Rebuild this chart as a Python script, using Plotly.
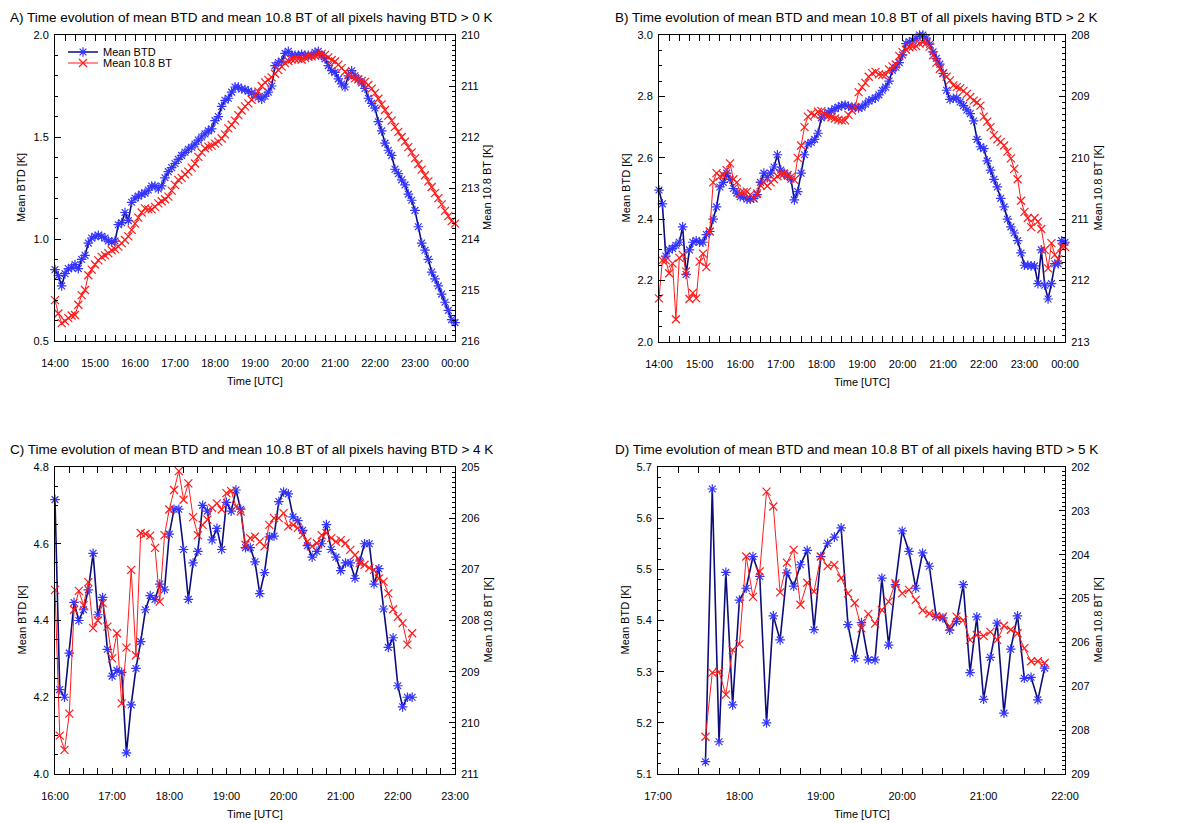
import plotly.graph_objects as go
import pandas as pd

# ---------------- data (5-minute samples) ----------------
A_start = "2000-01-01 14:00"
A_btd = [0.85, 0.82, 0.77, 0.83, 0.855, 0.86, 0.875, 0.855, 0.90, 0.92,
         0.98, 1.005, 1.013, 1.018, 1.013, 1.005, 0.99, 0.985, 0.99, 1.07,
         1.08, 1.13, 1.09, 1.18, 1.20, 1.21, 1.22, 1.225, 1.24, 1.26,
         1.26, 1.245, 1.26, 1.30, 1.33, 1.35, 1.37, 1.39, 1.41, 1.425,
         1.44, 1.45, 1.465, 1.485, 1.50, 1.515, 1.53, 1.54, 1.58, 1.60,
         1.65, 1.68, 1.69, 1.72, 1.745, 1.745, 1.735, 1.733, 1.725, 1.715,
         1.708, 1.695, 1.685, 1.70, 1.72, 1.75, 1.85, 1.865, 1.872, 1.91,
         1.92, 1.90, 1.90, 1.90, 1.905, 1.90, 1.90, 1.90, 1.915, 1.92,
         1.90, 1.883, 1.85, 1.825, 1.817, 1.785, 1.76, 1.745, 1.80, 1.825,
         1.80, 1.785, 1.765, 1.738, 1.69, 1.665, 1.642, 1.575, 1.53, 1.47,
         1.435, 1.41, 1.342, 1.32, 1.29, 1.265, 1.22, 1.19, 1.14, 1.06,
         0.98, 0.945, 0.90, 0.838, 0.805, 0.77, 0.73, 0.69, 0.65, 0.605,
         0.59]
A_bt = [215.20, 215.46, 215.65, 215.61, 215.55, 215.50, 215.49, 215.29, 215.10, 215.00,
        214.71, 214.60, 214.50, 214.42, 214.35, 214.32, 214.28, 214.22, 214.20, 214.15,
        214.08, 214.02, 213.95, 213.82, 213.70, 213.58, 213.48, 213.40, 213.42, 213.42,
        213.37, 213.30, 213.26, 213.22, 213.17, 213.05, 212.94, 212.84, 212.80, 212.73,
        212.68, 212.60, 212.52, 212.39, 212.30, 212.22, 212.19, 212.17, 212.13, 212.09,
        212.03, 211.95, 211.83, 211.76, 211.68, 211.57, 211.48, 211.40, 211.34, 211.27,
        211.20, 211.11, 211.00, 210.93, 210.88, 210.83, 210.76, 210.69, 210.62, 210.55,
        210.51, 210.48, 210.47, 210.47, 210.48, 210.45, 210.43, 210.42, 210.41, 210.39,
        210.37, 210.39, 210.44, 210.49, 210.52, 210.58, 210.65, 210.72, 210.78, 210.82,
        210.85, 210.87, 210.90, 210.92, 210.98, 211.05, 211.14, 211.25, 211.36, 211.47,
        211.58, 211.68, 211.80, 211.90, 212.00, 212.09, 212.20, 212.30, 212.42, 212.53,
        212.64, 212.75, 212.87, 212.98, 213.10, 213.20, 213.32, 213.45, 213.55, 213.65,
        213.70]

B_start = "2000-01-01 14:00"
B_btd = [2.495, 2.45, 2.28, 2.30, 2.305, 2.315, 2.325, 2.375, 2.22, 2.30,
         2.325, 2.33, 2.325, 2.325, 2.35, 2.36, 2.40, 2.44, 2.505, 2.52,
         2.55, 2.53, 2.50, 2.485, 2.473, 2.473, 2.465, 2.465, 2.468, 2.48,
         2.52, 2.55, 2.535, 2.55, 2.57, 2.61, 2.56, 2.55, 2.54, 2.53,
         2.463, 2.49, 2.55, 2.61, 2.645, 2.65, 2.66, 2.68, 2.73, 2.742,
         2.748, 2.752, 2.76, 2.765, 2.77, 2.772, 2.768, 2.765, 2.765, 2.762,
         2.765, 2.775, 2.785, 2.79, 2.795, 2.805, 2.82, 2.83, 2.85, 2.885,
         2.895, 2.91, 2.935, 2.972, 2.978, 2.982, 2.99, 3.0, 3.0, 2.99,
         2.97, 2.945, 2.924, 2.905, 2.875, 2.82, 2.79, 2.794, 2.795, 2.782,
         2.77, 2.756, 2.744, 2.72, 2.66, 2.636, 2.63, 2.59, 2.56, 2.53,
         2.505, 2.468, 2.44, 2.40, 2.375, 2.355, 2.33, 2.29, 2.25, 2.25,
         2.248, 2.248, 2.19, 2.30, 2.185, 2.14, 2.19, 2.255, 2.255, 2.33,
         2.325]
B_bt = [212.29, 211.67, 211.67, 211.88, 211.72, 212.63, 211.63, 211.58, 211.85, 212.30,
        212.20, 212.29, 211.69, 211.56, 211.78, 211.20, 210.40, 210.25, 210.30, 210.28,
        210.20, 210.09, 210.35, 210.40, 210.57, 210.56, 210.55, 210.60, 210.66, 210.58,
        210.45, 210.40, 210.46, 210.40, 210.35, 210.30, 210.27, 210.26, 210.28, 210.31,
        210.36, 210.00, 209.80, 209.50, 209.33, 209.28, 209.30, 209.25, 209.24, 209.30,
        209.32, 209.34, 209.36, 209.38, 209.39, 209.39, 209.30, 209.23, 209.17, 208.93,
        208.85, 208.78, 208.68, 208.62, 208.60, 208.64, 208.65, 208.65, 208.56, 208.51,
        208.48, 208.34, 208.28, 208.24, 208.20, 208.19, 208.18, 208.14, 208.12, 208.13,
        208.19, 208.33, 208.45, 208.55, 208.62, 208.68, 208.74, 208.82, 208.85, 208.87,
        208.91, 208.96, 209.01, 209.07, 209.10, 209.15, 209.33, 209.41, 209.50, 209.63,
        209.70, 209.74, 209.80, 209.90, 210.01, 210.18, 210.35, 210.70, 210.88, 210.98,
        211.13, 210.98, 211.04, 211.16, 211.50, 211.80, 211.39, 211.58, 211.65, 211.45,
        211.45]

C_start = "2000-01-01 16:00"
C_btd = [4.715, 4.22, 4.20, 4.315, 4.447, 4.40, 4.428, 4.48, 4.575, 4.415,
         4.46, 4.325, 4.255, 4.27, 4.265, 4.055, 4.18, 4.275, 4.345, 4.428,
         4.465, 4.455, 4.495, 4.48, 4.625, 4.69, 4.69, 4.585, 4.455, 4.55,
         4.58, 4.70, 4.685, 4.61, 4.64, 4.585, 4.708, 4.685, 4.74, 4.69,
         4.59, 4.59, 4.553, 4.47, 4.525, 4.618, 4.62, 4.71, 4.735, 4.73,
         4.67, 4.66, 4.635, 4.595, 4.565, 4.58, 4.60, 4.65, 4.585, 4.565,
         4.53, 4.55, 4.55, 4.51, 4.555, 4.60, 4.60, 4.495, 4.535, 4.43,
         4.33, 4.355, 4.23, 4.175, 4.20, 4.20]
C_bt = [207.40, 210.25, 210.53, 209.82, 207.79, 207.42, 207.70, 207.25, 208.15, 208.00,
        207.66, 208.12, 208.74, 208.25, 209.62, 208.53, 207.01, 208.68, 206.29, 206.31,
        206.34, 206.58, 207.63, 206.33, 205.83, 205.45, 205.08, 205.64, 205.32, 205.98,
        206.33, 206.13, 206.03, 205.80, 205.71, 205.83, 205.51, 205.47, 205.77, 205.87,
        206.52, 206.39, 206.36, 206.46, 206.55, 206.13, 206.00, 206.00, 205.90, 206.16,
        206.13, 206.19, 206.33, 206.46, 206.55, 206.49, 206.33, 206.29, 206.39, 206.46,
        206.43, 206.49, 206.62, 206.72, 206.88, 206.91, 206.97, 207.01, 207.18, 207.24,
        207.47, 207.78, 207.93, 208.05, 208.47, 208.25]

D_start = "2000-01-01 17:35"
D_btd = [5.124, 5.657, 5.163, 5.494, 5.235, 5.44, 5.463, 5.525, 5.486, 5.20,
         5.409, 5.362, 5.493, 5.467, 5.509, 5.537, 5.382, 5.525, 5.551, 5.563,
         5.581, 5.392, 5.326, 5.396, 5.323, 5.323, 5.483, 5.352, 5.47, 5.575,
         5.535, 5.463, 5.532, 5.506, 5.408, 5.405, 5.381, 5.398, 5.47, 5.298,
         5.407, 5.246, 5.328, 5.395, 5.219, 5.344, 5.409, 5.287, 5.289, 5.245,
         5.307]
D_bt = [208.15, 206.69, 206.67, 207.19, 206.17, 206.04, 204.04, 204.96, 204.38, 202.56,
        202.90, 204.86, 204.18, 203.89, 205.14, 204.64, 204.84, 204.04, 204.26, 204.23,
        204.53, 204.88, 205.10, 205.68, 205.35, 205.57, 205.26, 205.07, 204.65, 204.88,
        204.80, 205.03, 205.27, 205.34, 205.40, 205.41, 205.64, 205.41, 205.49, 205.94,
        205.83, 205.85, 205.76, 205.94, 205.62, 205.71, 205.79, 206.13, 206.43, 206.43,
        206.47]

titles = ["A) Time evolution of mean BTD and mean 10.8 BT of all pixels having BTD > 0 K",
          "B) Time evolution of mean BTD and mean 10.8 BT of all pixels having BTD > 2 K",
          "C) Time evolution of mean BTD and mean 10.8 BT of all pixels having BTD > 4 K",
          "D) Time evolution of mean BTD and mean 10.8 BT of all pixels having BTD > 5 K"]
series_names = ["Mean BTD", "Mean 10.8 BT"]
x_title = "Time [UTC]"
yl_title = "Mean BTD [K]"
yr_title = "Mean 10.8 BT [K]"

# ---------------- layout geometry (screen pixels) ----------------
PAGE_MARGIN = 8          # default body margin of the html page
W, H = 1192 - 2 * PAGE_MARGIN, 823 - PAGE_MARGIN
FONT = "Liberation Sans, Arial, Helvetica, sans-serif"
BLUE_M = "#3434ff"
BLUE_L = "#0c0c7c"
RED = "#ff1a1a"

panels = [
    dict(start=A_start, btd=A_btd, bt=A_bt, px=(55, 455), py=(35, 341),
         xr=("2000-01-01 14:00", "2000-01-02 00:00"),
         yl=(0.5, 2.0), yl_dt=0.5, yl_mn=0.1, yr=(216, 210), title_xy=(8, 17)),
    dict(start=B_start, btd=B_btd, bt=B_bt, px=(659, 1065), py=(35, 342),
         xr=("2000-01-01 14:00", "2000-01-02 00:00"),
         yl=(2.0, 3.0), yl_dt=0.2, yl_mn=0.05, yr=(213, 208), title_xy=(613, 17)),
    dict(start=C_start, btd=C_btd, bt=C_bt, px=(55, 455), py=(467, 774),
         xr=("2000-01-01 16:00", "2000-01-01 23:00"),
         yl=(4.0, 4.8), yl_dt=0.2, yl_mn=0.05, yr=(211, 205), title_xy=(8, 449)),
    dict(start=D_start, btd=D_btd, bt=D_bt, px=(658, 1065), py=(467, 774),
         xr=("2000-01-01 17:00", "2000-01-01 22:00"),
         yl=(5.1, 5.7), yl_dt=0.1, yl_mn=0.02, yr=(209, 202), title_xy=(613, 449)),
]

fig = go.Figure()
layout = dict(width=W, height=H, autosize=False,
              margin=dict(l=0, r=0, t=0, b=0, pad=0, autoexpand=False),
              paper_bgcolor="white", plot_bgcolor="white",
              font=dict(family=FONT, size=11, color="black"),
              showlegend=True)
annotations = []

def fx(p):
    return (p - PAGE_MARGIN) / W

def fy(p):
    return 1 - (p - PAGE_MARGIN) / H

axis_common = dict(showline=True, linecolor="black", linewidth=1, ticks="inside",
                   tickcolor="black", tickwidth=1, showgrid=False, zeroline=False,
                   automargin=False,
                   tickfont=dict(family=FONT, size=11, color="black"))

for i, p in enumerate(panels):
    xn = i + 1
    yln = 2 * i + 1
    yrn = 2 * i + 2
    xs = "x" if xn == 1 else f"x{xn}"
    yls = "y" if yln == 1 else f"y{yln}"
    yrs = f"y{yrn}"
    times = pd.date_range(p["start"], periods=len(p["btd"]), freq="5min")

    fig.add_trace(go.Scatter(
        x=times, y=p["btd"], xaxis=xs, yaxis=yls, mode="lines+markers",
        name=series_names[0], showlegend=(i == 0), legend="legend",
        line=dict(color=BLUE_L, width=1.6), cliponaxis=False,
        marker=dict(symbol="asterisk-open", size=8, color=BLUE_M,
                    line=dict(width=1.2, color=BLUE_M))))
    fig.add_trace(go.Scatter(
        x=times, y=p["bt"], xaxis=xs, yaxis=yrs, mode="lines+markers",
        name=series_names[1], showlegend=(i == 0), legend="legend2",
        line=dict(color=RED, width=1), cliponaxis=False,
        marker=dict(symbol="x-thin-open", size=8, color=RED,
                    line=dict(width=1.2, color=RED))))

    xdom = [fx(p["px"][0]), fx(p["px"][1])]
    ydom = [fy(p["py"][1]), fy(p["py"][0])]
    layout["xaxis" if xn == 1 else f"xaxis{xn}"] = dict(
        axis_common, domain=xdom, anchor=yls, type="date", range=list(p["xr"]),
        dtick=3600000, tickformat="%H:%M", ticklen=6, mirror="allticks",
        ticklabelstandoff=12,
        minor=dict(dtick=900000, ticklen=3, ticks="inside", tickcolor="black"))
    layout["yaxis" if yln == 1 else f"yaxis{yln}"] = dict(
        axis_common, domain=ydom, anchor=xs, range=list(p["yl"]), dtick=p["yl_dt"],
        tick0=0, tickformat=".1f", ticklen=6, ticklabelstandoff=3,
        minor=dict(dtick=p["yl_mn"], ticklen=3, ticks="inside", tickcolor="black"))
    layout[f"yaxis{yrn}"] = dict(
        axis_common, overlaying=yls, side="right", anchor=xs, range=list(p["yr"]),
        dtick=1, tick0=0, ticklen=6, ticklabelstandoff=3,
        minor=dict(dtick=0.1, ticklen=3, ticks="inside", tickcolor="black"))

    # titles and axis labels
    annotations.append(dict(text=titles[i], xref="paper", yref="paper",
                            x=fx(p["title_xy"][0]), y=fy(p["title_xy"][1]),
                            xanchor="left", yanchor="middle", showarrow=False,
                            font=dict(family=FONT, size=13.5, color="black")))
    xc = (p["px"][0] + p["px"][1]) / 2
    yc = (p["py"][0] + p["py"][1]) / 2
    annotations.append(dict(text=x_title, xref="paper", yref="paper",
                            x=fx(xc), y=fy(p["py"][1] + 40), xanchor="center",
                            yanchor="middle", showarrow=False,
                            font=dict(family=FONT, size=11, color="black")))
    annotations.append(dict(text=yl_title, xref="paper", yref="paper",
                            x=fx(p["px"][0] - 34), y=fy(yc), xanchor="center",
                            yanchor="middle", textangle=-90, showarrow=False,
                            font=dict(family=FONT, size=11, color="black")))
    annotations.append(dict(text=yr_title, xref="paper", yref="paper",
                            x=fx(p["px"][1] + 32), y=fy(yc), xanchor="center",
                            yanchor="middle", textangle=-90, showarrow=False,
                            font=dict(family=FONT, size=11, color="black")))

layout["annotations"] = annotations
layout["legend"] = dict(x=fx(63), y=fy(52), xanchor="left", yanchor="middle",
                        bgcolor="rgba(0,0,0,0)", borderwidth=0,
                        font=dict(family=FONT, size=11, color="black"),
                        itemwidth=30, tracegroupgap=0)
layout["legend2"] = dict(x=fx(63), y=fy(63), xanchor="left", yanchor="middle",
                         bgcolor="rgba(0,0,0,0)", borderwidth=0,
                         font=dict(family=FONT, size=11, color="black"),
                         itemwidth=30, tracegroupgap=0)

fig.update_layout(**layout)
fig.write_html("out.html")
